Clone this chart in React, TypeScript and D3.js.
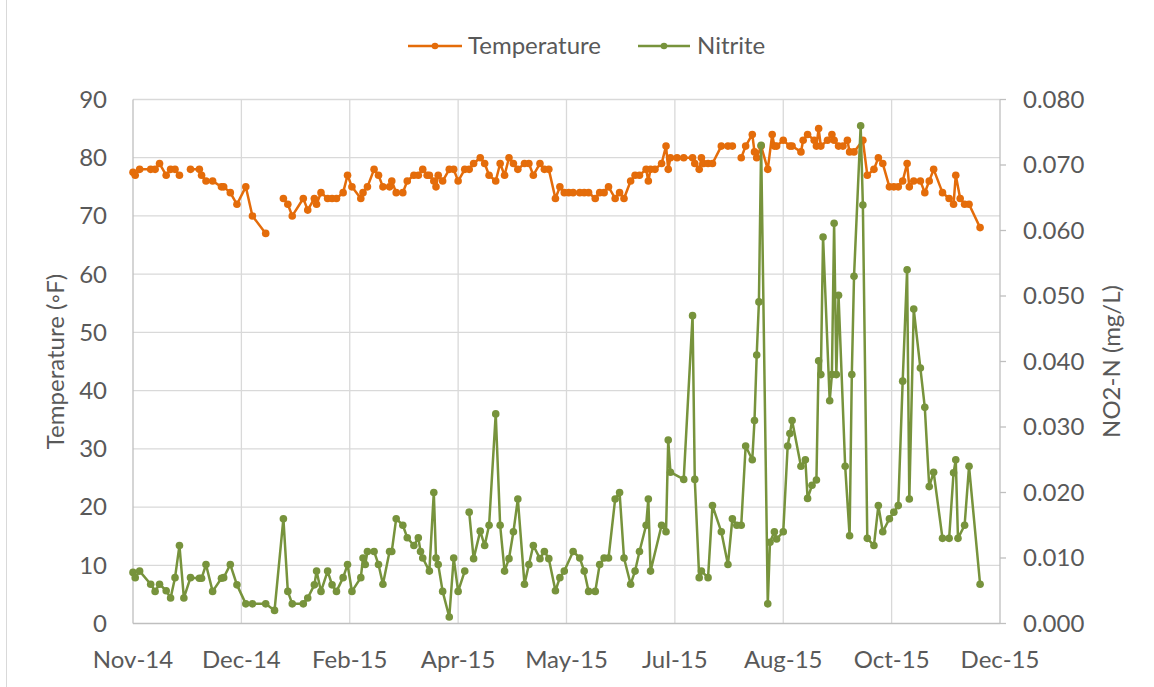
import React from "react";
import * as d3 from "d3";

const tickDates = ["2014-11-07","2014-12-26","2015-02-13","2015-04-03","2015-05-22","2015-07-10","2015-08-28","2015-10-16","2015-12-04"];
const tickLabels = ["Nov-14","Dec-14","Feb-15","Apr-15","May-15","Jul-15","Aug-15","Oct-15","Dec-15"];
const tempTicks = [0,10,20,30,40,50,60,70,80,90];
const nitriteTicks = [0,0.01,0.02,0.03,0.04,0.05,0.06,0.07,0.08];

const tempDates = [
"2014-11-07","2014-11-08","2014-11-10","2014-11-15","2014-11-17","2014-11-19","2014-11-22","2014-11-24","2014-11-26","2014-11-28","2014-11-30",
"2014-12-03","2014-12-07","2014-12-08","2014-12-10","2014-12-13","2014-12-17","2014-12-18","2014-12-21","2014-12-24","2014-12-28","2014-12-31",
"2015-01-06","2015-01-10","2015-01-14","2015-01-16","2015-01-18","2015-01-23","2015-01-25","2015-01-28","2015-01-29","2015-01-31",
"2015-02-03","2015-02-05","2015-02-07","2015-02-10","2015-02-12","2015-02-14","2015-02-18","2015-02-19","2015-02-21","2015-02-24","2015-02-26","2015-02-28",
"2015-03-03","2015-03-04","2015-03-06","2015-03-09","2015-03-11","2015-03-14","2015-03-16","2015-03-18","2015-03-20","2015-03-21","2015-03-23","2015-03-24","2015-03-25","2015-03-27","2015-03-30",
"2015-04-01","2015-04-03","2015-04-06","2015-04-08","2015-04-10","2015-04-13","2015-04-15","2015-04-17","2015-04-20","2015-04-22","2015-04-24","2015-04-26","2015-04-28","2015-04-30",
"2015-05-03","2015-05-05","2015-05-07","2015-05-10","2015-05-12","2015-05-14","2015-05-17","2015-05-19","2015-05-21","2015-05-23","2015-05-25","2015-05-28","2015-05-30",
"2015-06-01","2015-06-04","2015-06-06","2015-06-08","2015-06-10","2015-06-13","2015-06-15","2015-06-17","2015-06-20","2015-06-22","2015-06-24","2015-06-27","2015-06-28","2015-06-29",
"2015-07-01","2015-07-04","2015-07-06","2015-07-07","2015-07-08","2015-07-11","2015-07-14","2015-07-18","2015-07-19","2015-07-21","2015-07-22","2015-07-23","2015-07-25","2015-07-27","2015-07-31",
"2015-08-03","2015-08-05","2015-08-07","2015-08-09","2015-08-11","2015-08-14","2015-08-15","2015-08-16","2015-08-18","2015-08-21","2015-08-23","2015-08-24","2015-08-25","2015-08-28","2015-08-31",
"2015-09-01","2015-09-05","2015-09-06","2015-09-08","2015-09-11","2015-09-12","2015-09-13","2015-09-14","2015-09-17","2015-09-19","2015-09-20","2015-09-22","2015-09-24","2015-09-26","2015-09-27","2015-09-29",
"2015-10-03","2015-10-05","2015-10-08","2015-10-10","2015-10-12","2015-10-15","2015-10-17","2015-10-19","2015-10-21","2015-10-23","2015-10-24","2015-10-26","2015-10-29","2015-10-31",
"2015-11-02","2015-11-04","2015-11-08","2015-11-11","2015-11-13","2015-11-14","2015-11-16","2015-11-18","2015-11-20","2015-11-25"
];
const tempValues = [
77.5,77,78,78,78,79,77,78,78,77,null,
78,78,77,76,76,75,75,74,72,75,70,
67,null,73,72,70,73,71,73,72,74,
73,73,73,74,77,75,73,74,75,78,77,75,
75,76,74,74,76,77,77,78,77,77,76,75,77,76,78,
78,76,78,78,79,80,79,77,76,79,77,80,79,78,
79,79,77,79,78,78,73,75,74,74,74,74,74,
74,73,74,74,75,73,74,73,76,77,77,78,76,78,
78,79,82,78,80,80,80,80,79,78,80,79,79,79,82,
82,82,null,80,82,84,81,80,82,78,84,82,82,83,82,
82,81,83,84,83,82,85,82,83,84,83,82,82,83,81,81,
83,77,78,80,79,75,75,75,76,79,75,76,76,74,
76,78,74,73,72,77,73,72,72,68
];

const nitriteDates = [
"2014-11-07","2014-11-08","2014-11-10","2014-11-15","2014-11-17","2014-11-19","2014-11-22","2014-11-24","2014-11-26","2014-11-28","2014-11-30",
"2014-12-03","2014-12-07","2014-12-08","2014-12-10","2014-12-13","2014-12-17","2014-12-18","2014-12-21","2014-12-24","2014-12-28","2014-12-31",
"2015-01-06","2015-01-10","2015-01-14","2015-01-16","2015-01-18","2015-01-23","2015-01-25","2015-01-28","2015-01-29","2015-01-31",
"2015-02-03","2015-02-05","2015-02-07","2015-02-10","2015-02-12","2015-02-14","2015-02-18","2015-02-19","2015-02-20","2015-02-21","2015-02-24","2015-02-26","2015-02-28",
"2015-03-03","2015-03-04","2015-03-06","2015-03-09","2015-03-11","2015-03-14","2015-03-16","2015-03-17","2015-03-18","2015-03-21","2015-03-23","2015-03-24","2015-03-25","2015-03-27","2015-03-30",
"2015-04-01","2015-04-03","2015-04-06","2015-04-07","2015-04-08","2015-04-10","2015-04-13","2015-04-15","2015-04-17","2015-04-20","2015-04-22","2015-04-24","2015-04-26","2015-04-28","2015-04-30",
"2015-05-03","2015-05-05","2015-05-07","2015-05-10","2015-05-12","2015-05-14","2015-05-17","2015-05-19","2015-05-21","2015-05-25","2015-05-28","2015-05-30",
"2015-06-01","2015-06-04","2015-06-06","2015-06-08","2015-06-10","2015-06-13","2015-06-15","2015-06-17","2015-06-20","2015-06-22","2015-06-24","2015-06-27","2015-06-28","2015-06-29",
"2015-07-04","2015-07-06","2015-07-07","2015-07-08","2015-07-14","2015-07-18","2015-07-19","2015-07-21","2015-07-22","2015-07-25","2015-07-27","2015-07-31",
"2015-08-03","2015-08-05","2015-08-07","2015-08-09","2015-08-11","2015-08-14","2015-08-15","2015-08-16","2015-08-17","2015-08-18","2015-08-21","2015-08-22","2015-08-24","2015-08-25","2015-08-28","2015-08-30","2015-08-31",
"2015-09-01","2015-09-05","2015-09-07","2015-09-08","2015-09-10","2015-09-12","2015-09-13","2015-09-14","2015-09-15","2015-09-18","2015-09-19","2015-09-20","2015-09-21","2015-09-22","2015-09-25","2015-09-27","2015-09-28","2015-09-29",
"2015-10-02","2015-10-03","2015-10-05","2015-10-08","2015-10-10","2015-10-12","2015-10-15","2015-10-17","2015-10-19","2015-10-21","2015-10-23","2015-10-24","2015-10-26","2015-10-29","2015-10-31",
"2015-11-02","2015-11-04","2015-11-08","2015-11-11","2015-11-13","2015-11-14","2015-11-15","2015-11-18","2015-11-20","2015-11-25"
];
const nitriteValues = [
0.0078,0.0070,0.0080,0.0060,0.0049,0.0060,0.0050,0.0039,0.0070,0.0119,0.0039,
0.0070,0.0069,0.0069,0.0090,0.0049,0.0069,0.0070,0.0090,0.0059,0.0030,0.0030,
0.0030,0.0020,0.0160,0.0049,0.0030,0.0030,0.0039,0.0059,0.0080,0.0049,
0.0080,0.0059,0.0049,0.0070,0.0090,0.0049,0.0070,0.0100,0.0090,0.0110,0.0110,0.0090,0.0060,
0.0110,0.0110,0.0160,0.0150,0.0131,0.0119,0.0131,0.0110,0.0100,0.0080,0.0200,0.0100,0.0090,0.0049,0.0010,
0.0100,0.0049,0.0080,null,0.0170,0.0099,0.0141,0.0119,0.0150,0.0320,0.0150,0.0080,0.0099,0.0140,0.0190,
0.0060,0.0090,0.0119,0.0099,0.0110,0.0099,0.0050,0.0070,0.0080,0.0110,0.0100,0.0080,
0.0049,0.0049,0.0090,0.0100,0.0100,0.0190,0.0200,0.0100,0.0060,0.0080,0.0110,0.0150,0.0190,0.0080,
0.0150,0.0140,0.0280,0.0231,0.0220,0.0470,0.0220,0.0070,0.0080,0.0070,0.0180,0.0140,
0.0090,0.0160,0.0150,0.0150,0.0271,0.0250,0.0310,0.0410,0.0491,0.0730,0.0030,0.0124,0.0140,0.0129,0.0140,0.0271,0.0290,
0.0310,0.0240,0.0250,0.0191,0.0211,0.0219,0.0401,0.0380,0.0590,0.0340,0.0380,0.0611,0.0380,0.0501,0.0240,0.0134,0.0380,0.0530,
0.0760,0.0639,0.0130,0.0119,0.0180,0.0140,0.0160,0.0170,0.0180,0.0370,0.0540,0.0190,0.0480,0.0390,0.0330,
0.0209,0.0231,0.0130,0.0130,0.0230,0.0250,0.0130,0.0150,0.0240,0.0060
];

const ORANGE = "#E46C0A";
const GREEN = "#77933C";
const TEXT = "#595959";
const GRID = "#D9D9D9";
const AXIS = "#BFBFBF";
const FONT = "Lato, 'Open Sans', sans-serif";

type Pt = { d: Date; v: number | null };

export default function App() {
  const W = 1154, H = 687;
  const left = 133, right = 1000, top = 99.5, bottom = 623.5;
  const parse = d3.timeParse("%Y-%m-%d");
  const ticks = tickDates.map((s) => parse(s) as Date);
  const x = d3.scaleTime().domain([ticks[0], ticks[ticks.length - 1]]).range([left, right]);
  const yT = d3.scaleLinear().domain([0, 90]).range([bottom, top]);
  const yN = d3.scaleLinear().domain([0, 0.08]).range([bottom, top]);

  const tData: Pt[] = tempDates.map((s, i) => ({ d: parse(s) as Date, v: tempValues[i] }));
  const nData: Pt[] = nitriteDates.map((s, i) => ({ d: parse(s) as Date, v: nitriteValues[i] }));

  const tLine = d3.line<Pt>().defined((p) => p.v != null).x((p) => x(p.d)).y((p) => yT(p.v as number));
  const nLine = d3.line<Pt>().defined((p) => p.v != null).x((p) => x(p.d)).y((p) => yN(p.v as number));
  const fmtN = d3.format(".3f");
  const midY = (top + bottom) / 2;
  const R = 3.8;
  const SW = 2.5;

  return (
    <svg width={W} height={H} style={{ position: "absolute", left: 0, top: 0, background: "#fff" }} fontFamily={FONT}>
      <rect x={6.5} y={-5} width={1160} height={700} fill="#fff" stroke="#D9D9D9" strokeWidth={1} />
      {tempTicks.filter((t) => t > 0).map((t) => (
        <line key={"hg" + t} x1={left} x2={right} y1={yT(t)} y2={yT(t)} stroke={GRID} strokeWidth={1.3} />
      ))}
      {ticks.slice(1, -1).map((d, i) => (
        <line key={"vg" + i} x1={x(d)} x2={x(d)} y1={top} y2={bottom} stroke={GRID} strokeWidth={1.3} />
      ))}
      <line x1={left} x2={left} y1={top} y2={bottom} stroke={AXIS} strokeWidth={1.3} />
      <line x1={right} x2={right} y1={top} y2={bottom} stroke={AXIS} strokeWidth={1.3} />
      <line x1={left} x2={right} y1={bottom} y2={bottom} stroke={AXIS} strokeWidth={1.5} />
      {nitriteTicks.map((t) => (
        <line key={"rt" + t} x1={right} x2={right + 6} y1={yN(t)} y2={yN(t)} stroke={AXIS} strokeWidth={1.3} />
      ))}
      {tempTicks.map((t) => (
        <text key={"lt" + t} x={107} y={yT(t)} dy="0.35em" textAnchor="end" fontSize={24} fill={TEXT}>{t}</text>
      ))}
      {nitriteTicks.map((t) => (
        <text key={"rl" + t} x={1023} y={yN(t)} dy="0.35em" textAnchor="start" fontSize={24} fill={TEXT}>{fmtN(t)}</text>
      ))}
      {ticks.map((d, i) => (
        <text key={"xl" + i} x={x(d)} y={668} textAnchor="middle" fontSize={24} fill={TEXT}>{tickLabels[i]}</text>
      ))}
      <text transform={`translate(64,${midY}) rotate(-90)`} textAnchor="middle" fontSize={24} fill={TEXT}>Temperature (◦F)</text>
      <text transform={`translate(1120,${midY}) rotate(-90)`} textAnchor="middle" fontSize={24} fill={TEXT}>NO2-N (mg/L)</text>
      <path d={tLine(tData) || ""} fill="none" stroke={ORANGE} strokeWidth={SW} strokeLinejoin="round" />
      {tData.filter((p) => p.v != null).map((p, i) => (
        <circle key={"tc" + i} cx={x(p.d)} cy={yT(p.v as number)} r={R} fill={ORANGE} />
      ))}
      <path d={nLine(nData) || ""} fill="none" stroke={GREEN} strokeWidth={SW} strokeLinejoin="round" />
      {nData.filter((p) => p.v != null).map((p, i) => (
        <circle key={"nc" + i} cx={x(p.d)} cy={yN(p.v as number)} r={R} fill={GREEN} />
      ))}
      <line x1={408} x2={462} y1={46} y2={46} stroke={ORANGE} strokeWidth={SW} />
      <circle cx={435} cy={46} r={3.3} fill={ORANGE} />
      <text x={468} y={46} dy="0.35em" fontSize={24} fill={TEXT}>Temperature</text>
      <line x1={638} x2={690} y1={46} y2={46} stroke={GREEN} strokeWidth={SW} />
      <circle cx={664} cy={46} r={3.3} fill={GREEN} />
      <text x={697} y={46} dy="0.35em" fontSize={24} fill={TEXT}>Nitrite</text>
    </svg>
  );
}
